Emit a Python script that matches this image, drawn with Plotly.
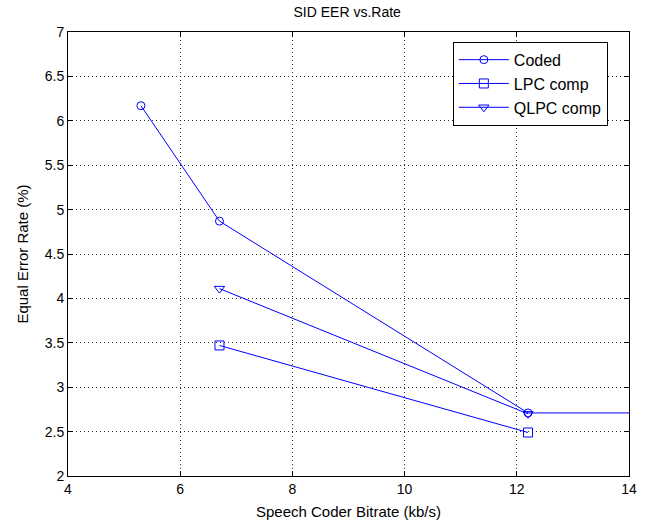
import plotly.graph_objects as go

# Data
coded_x = [5.3, 6.7, 12.2, 15.0]
coded_y = [6.17, 4.87, 2.71, 2.71]
lpc_x = [6.7, 12.2]
lpc_y = [3.47, 2.49]
qlpc_x = [6.7, 12.2]
qlpc_y = [4.11, 2.70]

x_ticks = [4, 6, 8, 10, 12, 14]
y_ticks = [2, 2.5, 3, 3.5, 4, 4.5, 5, 5.5, 6, 6.5, 7]
y_tick_text = ["2", "2.5", "3", "3.5", "4", "4.5", "5", "5.5", "6", "6.5", "7"]

blue = "rgb(0,0,255)"
font = "Liberation Sans, Arial, sans-serif"

fig = go.Figure()
fig.add_trace(go.Scatter(x=coded_x, y=coded_y, mode="lines+markers", name="Coded",
                         line=dict(color=blue, width=1),
                         marker=dict(symbol="circle-open", size=8, color=blue, line=dict(width=1))))
fig.add_trace(go.Scatter(x=lpc_x, y=lpc_y, mode="lines+markers", name="LPC comp",
                         line=dict(color=blue, width=1),
                         marker=dict(symbol="square-open", size=9, color=blue, line=dict(width=1))))
fig.add_trace(go.Scatter(x=qlpc_x, y=qlpc_y, mode="lines+markers", name="QLPC comp",
                         line=dict(color=blue, width=1),
                         marker=dict(symbol="triangle-down-open", size=9, color=blue, line=dict(width=1))))

axis_common = dict(
    showline=True, linecolor="black", linewidth=1, mirror="ticks",
    ticks="inside", ticklen=5, tickcolor="black",
    showgrid=True, gridcolor="rgba(0,0,0,0.8)", griddash="1px,3px", gridwidth=1,
    zeroline=False, tickfont=dict(family=font, size=14, color="black"),
    automargin=False,
)

fig.update_layout(
    width=649, height=525,
    paper_bgcolor="white", plot_bgcolor="white",
    margin=dict(l=68, r=20, t=32, b=49),
    title=dict(text="SID EER vs.Rate", x=0.535, xanchor="center", y=0.977, yanchor="middle",
               font=dict(family=font, size=14, color="black")),
    xaxis=dict(range=[4, 14], tickvals=x_ticks,
               title=dict(text="Speech Coder Bitrate (kb/s)", standoff=10,
                          font=dict(family=font, size=15, color="black")),
               **axis_common),
    yaxis=dict(range=[2, 7], tickvals=y_ticks, ticktext=y_tick_text,
               title=dict(text="Equal Error Rate (%)", standoff=12,
                          font=dict(family=font, size=15, color="black")),
               **axis_common),
    legend=dict(x=0.686, y=0.978, xanchor="left", yanchor="top",
                bgcolor="white", bordercolor="black", borderwidth=1,
                font=dict(family=font, size=16, color="black"),
                tracegroupgap=0, itemwidth=50),
    showlegend=True,
)

fig.write_html("out.html", config={"displayModeBar": False},
               post_script="document.body.style.margin='0';")
